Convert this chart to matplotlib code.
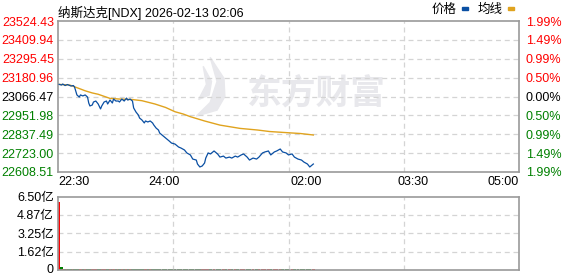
import numpy as np
import matplotlib
matplotlib.use('Agg')
import matplotlib.pyplot as plt
import matplotlib.transforms as mtransforms
from matplotlib.patches import Polygon

plt.rcParams['font.family'] = ['Liberation Sans', 'Noto Sans CJK SC']

# minutes after 22:30
times = [1, 3, 4, 6, 8, 9, 11, 13, 14, 16, 18, 19, 21, 23, 25, 26, 27, 29, 30, 32,
         34, 36, 37, 39, 41, 42, 44, 46, 47, 49, 51, 52, 54, 56, 58, 59, 61, 63, 64, 66,
         68, 69, 71, 73, 74, 76, 78, 80, 81, 83, 85, 86, 89, 91, 94, 96, 99, 102, 104, 107,
         109, 112, 114, 117, 118, 120, 122, 124, 125, 127, 129, 132, 135, 137, 140, 142, 145, 147, 150, 152,
         155, 157, 160, 162, 165, 168, 170, 173, 175, 178, 180, 183, 185, 188, 190, 193, 195, 198, 200, 203,
         206, 208, 211, 213, 216]
prices = [23140, 23136, 23142, 23133, 23139, 23136, 23130, 23133, 23124, 23076,
          23063, 23076, 23070, 23076, 23063, 23027, 23009, 23015, 23033, 23039,
          23021, 22991, 23009, 23033, 23039, 23021, 23045, 23027, 23051, 23039,
          23039, 23033, 23051, 23039, 23057, 23045, 23051, 23039, 22997, 22972,
          22954, 22936, 22924, 22906, 22918, 22912, 22918, 22906, 22894, 22875,
          22863, 22845, 22827, 22815, 22797, 22784, 22778, 22760, 22754, 22742,
          22724, 22712, 22687, 22681, 22657, 22639, 22645, 22663, 22693, 22724,
          22718, 22736, 22718, 22699, 22705, 22693, 22699, 22693, 22705, 22699,
          22712, 22718, 22699, 22681, 22693, 22687, 22699, 22724, 22730, 22736,
          22712, 22730, 22736, 22748, 22730, 22724, 22712, 22718, 22699, 22687,
          22681, 22669, 22657, 22639, 22657]

avg_times = [1, 10, 19, 23, 29, 34, 44, 52, 63, 71, 82, 91, 99, 106, 112, 124, 137, 154, 169, 179, 196, 205, 216]
avg_prices = [23140, 23136, 23112, 23101, 23088, 23080, 23055, 23051, 23048, 23041, 23021, 23000,
              22974, 22960, 22944, 22918, 22893, 22873, 22863, 22854, 22846, 22842, 22833]

# volume in 亿
volumes = [6.02, 0.32, 0.09, 0.08, 0.09, 0.08, 0.09, 0.08, 0.09, 0.10,
           0.09, 0.08, 0.09, 0.08, 0.09, 0.09, 0.08, 0.09, 0.08, 0.09,
           0.08, 0.09, 0.08, 0.09, 0.08, 0.09, 0.08, 0.09, 0.08, 0.09,
           0.08, 0.09, 0.08, 0.09, 0.08, 0.09, 0.08, 0.09, 0.08, 0.09,
           0.08, 0.09, 0.08, 0.09, 0.08, 0.09, 0.08, 0.09, 0.08, 0.09,
           0.08, 0.09, 0.08, 0.09, 0.08, 0.09, 0.08, 0.09, 0.08, 0.09,
           0.08, 0.09, 0.08, 0.09, 0.08, 0.09, 0.08, 0.09, 0.08, 0.09,
           0.08, 0.09, 0.08, 0.09, 0.08, 0.09, 0.08, 0.09, 0.08, 0.09,
           0.08, 0.09, 0.08, 0.09, 0.08, 0.09, 0.08, 0.09, 0.08, 0.09,
           0.08, 0.09, 0.08, 0.09, 0.08, 0.09, 0.08, 0.09, 0.08, 0.09,
           0.08, 0.09, 0.08, 0.09, 0.08]

prev_close = 23066.47
price_ticks = [22608.51, 22723.00, 22837.49, 22951.98, 23066.47, 23180.96, 23295.45, 23409.94, 23524.43]
pct_labels = ['1.99%', '1.49%', '0.99%', '0.50%', '0.00%', '0.50%', '0.99%', '1.49%', '1.99%']
time_ticks = [0, 90, 210, 300, 390]
time_labels = ['22:30', '24:00', '02:00', '03:30', '05:00']
vol_ticks = [0, 1.625, 3.25, 4.875, 6.5]
vol_labels = ['0', '1.62亿', '3.25亿', '4.87亿', '6.50亿']

RED = '#ff0000'
GREEN = '#008000'
BLUE = '#0a4fa3'
ORANGE = '#e0a31e'
BORDER = '#9a9a9a'
GRID = '#d4d4d4'
FS = 9

fig = plt.figure(figsize=(5.78, 2.76), dpi=100)
ax = fig.add_axes([58 / 578, 1 - 172 / 276, 461 / 578, 151 / 276])
axv = fig.add_axes([58 / 578, 1 - 270.3 / 276, 461 / 578, 73.8 / 276])

for a in (ax, axv):
  for s in a.spines.values():
    s.set_color(BORDER)
    s.set_linewidth(1.2)
  a.set_xlim(0, 390)
  a.tick_params(length=0)
  a.set_xticks([97.5, 195, 292.5], minor=True)
  a.tick_params(which='minor', length=0)
  a.grid(True, which='minor', axis='x', color=GRID, linestyle=(0, (4, 3)), linewidth=0.9)

# watermark
ax.text(0.56, 0.52, '东方财富', transform=ax.transAxes, fontsize=25, fontweight='bold',
        color='#e8e8ec', ha='center', va='center', family='Noto Sans CJK SC', zorder=0)
ax.add_patch(Polygon([(0.30, 0.37), (0.33, 0.46), (0.345, 0.60), (0.33, 0.76), (0.36, 0.62),
                      (0.362, 0.50), (0.345, 0.41)], closed=True, transform=ax.transAxes,
                     color='#e8e8ec', zorder=0))
ax.add_patch(Polygon([(0.305, 0.48), (0.322, 0.58), (0.315, 0.70), (0.333, 0.60), (0.328, 0.51)],
                     closed=True, transform=ax.transAxes, color='#e8e8ec', zorder=0))

ax.set_ylim(price_ticks[0], price_ticks[-1])
ax.set_yticks(price_ticks)
ax.set_yticklabels(['%.2f' % p for p in price_ticks], fontsize=FS)
for p in price_ticks[1:-1]:
  ax.axhline(p, color=GRID, linestyle=(0, (4, 3)), linewidth=0.9, zorder=0.5)
for lbl, p in zip(ax.get_yticklabels(), price_ticks):
  lbl.set_color(RED if p > prev_close + 1 else (GREEN if p < prev_close - 1 else 'black'))
ax.tick_params(axis='y', pad=3)

ax.set_xticks(time_ticks)
ax.set_xticklabels(time_labels, fontsize=FS)
ax.tick_params(axis='x', pad=3)
xl = ax.get_xticklabels()
xl[0].set_ha('left')
xl[-1].set_ha('right')

ax2 = ax.twinx()
ax2.set_ylim(ax.get_ylim())
ax2.set_yticks(price_ticks)
ax2.set_yticklabels(pct_labels, fontsize=FS)
ax2.tick_params(length=0, pad=5)
for s in ax2.spines.values():
  s.set_visible(False)
for lbl, p in zip(ax2.get_yticklabels(), price_ticks):
  lbl.set_color(RED if p > prev_close + 1 else (GREEN if p < prev_close - 1 else 'black'))

ax.plot(avg_times, avg_prices, color=ORANGE, linewidth=1.0, zorder=2)
ax.plot(times, prices, color=BLUE, linewidth=0.9, zorder=3)

# volume
colors = [RED] + [RED if prices[i] >= prices[i - 1] else GREEN for i in range(1, len(prices))]
axv.bar(times, volumes, width=2.0, color=colors, linewidth=0)
axv.set_ylim(0, 6.5)
axv.set_yticks(vol_ticks)
axv.set_yticklabels(vol_labels, fontsize=FS)
axv.tick_params(axis='y', pad=3)
axv.set_xticks([])
for v in vol_ticks[1:-1]:
  axv.axhline(v, color=GRID, linestyle=(0, (4, 3)), linewidth=0.9, zorder=0.5)
# keep the "0" label inside the canvas
zero_lbl = axv.get_yticklabels()[0]
zero_lbl.set_transform(zero_lbl.get_transform() +
                       mtransforms.ScaledTranslation(0, 2 / 100, fig.dpi_scale_trans))

# header
fig.text(58 / 578, 1 - 13 / 276, '纳斯达克[NDX] 2026-02-13 02:06', fontsize=FS, va='center', ha='left')
fig.text(432 / 578, 1 - 10 / 276, '价格', fontsize=FS, va='center', ha='left')
fig.text(478 / 578, 1 - 10 / 276, '均线', fontsize=FS, va='center', ha='left')
fig.patches.append(plt.Rectangle((462 / 578, 1 - 10 / 276), 6 / 578, 3 / 276,
                                 transform=fig.transFigure, color=BLUE, figure=fig))
fig.patches.append(plt.Rectangle((508 / 578, 1 - 10 / 276), 6 / 578, 3 / 276,
                                 transform=fig.transFigure, color=ORANGE, figure=fig))

fig.savefig('out.png', dpi=100)
